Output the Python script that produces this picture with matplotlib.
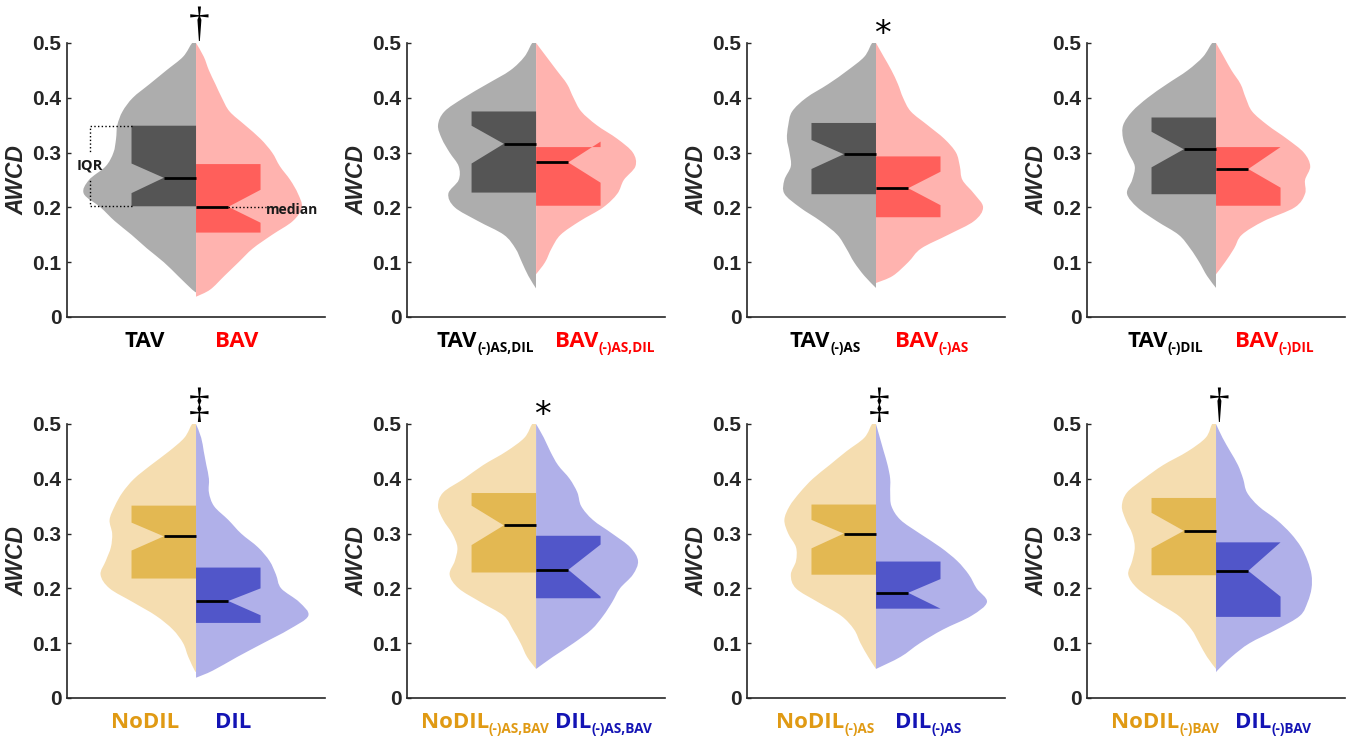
import numpy as np
import matplotlib.pyplot as plt
from matplotlib.path import Path
from matplotlib.patches import PathPatch, Rectangle
from matplotlib.transforms import offset_copy

# AWCD levels at which the violin half-widths were read
levels = [0.5, 0.475, 0.45, 0.425, 0.4, 0.375, 0.35, 0.325, 0.3, 0.275,
          0.25, 0.225, 0.2, 0.175, 0.15, 0.125, 0.1, 0.075, 0.05]

# violin half-widths (one value per level), left half / right half of each panel
tav_all = [0.03, 0.10, 0.23, 0.36, 0.49, 0.57, 0.61, 0.62, 0.64, 0.70, 0.83, 0.87, 0.74, 0.63, 0.50, 0.38, 0.25, 0.14, 0.03]
bav_all = [0.0, 0.06, 0.10, 0.15, 0.20, 0.26, 0.38, 0.50, 0.59, 0.65, 0.73, 0.79, 0.82, 0.75, 0.59, 0.44, 0.33, 0.22, 0.11]
tav_noasdil = [0.03, 0.09, 0.20, 0.38, 0.56, 0.71, 0.76, 0.73, 0.67, 0.60, 0.60, 0.68, 0.63, 0.45, 0.25, 0.16, 0.11, 0.06, 0.0]
bav_noasdil = [0.0, 0.08, 0.16, 0.24, 0.29, 0.35, 0.47, 0.63, 0.75, 0.77, 0.68, 0.63, 0.52, 0.34, 0.19, 0.12, 0.07, 0.0, 0.0]
tav_noas = [0.03, 0.09, 0.22, 0.37, 0.54, 0.65, 0.68, 0.69, 0.67, 0.66, 0.71, 0.71, 0.59, 0.43, 0.30, 0.23, 0.17, 0.09, 0.0]
bav_noas = [0.0, 0.06, 0.12, 0.17, 0.21, 0.27, 0.40, 0.53, 0.62, 0.65, 0.67, 0.76, 0.83, 0.76, 0.56, 0.35, 0.25, 0.13, 0.0]
tav_nodil = [0.03, 0.10, 0.22, 0.38, 0.53, 0.65, 0.72, 0.72, 0.68, 0.63, 0.65, 0.69, 0.61, 0.46, 0.29, 0.20, 0.13, 0.07, 0.0]
bav_nodil = [0.0, 0.06, 0.12, 0.19, 0.23, 0.28, 0.40, 0.55, 0.68, 0.73, 0.69, 0.69, 0.61, 0.37, 0.20, 0.14, 0.07, 0.0, 0.0]
nodil_all = [0.03, 0.09, 0.21, 0.35, 0.48, 0.57, 0.63, 0.67, 0.65, 0.66, 0.70, 0.74, 0.67, 0.49, 0.31, 0.18, 0.10, 0.06, 0.01]
dil_all = [0.0, 0.04, 0.06, 0.08, 0.10, 0.10, 0.14, 0.25, 0.35, 0.48, 0.57, 0.62, 0.66, 0.80, 0.87, 0.72, 0.52, 0.32, 0.13]
nodil_noasbav = [0.03, 0.09, 0.23, 0.41, 0.56, 0.72, 0.76, 0.72, 0.65, 0.61, 0.63, 0.67, 0.60, 0.43, 0.25, 0.18, 0.12, 0.07, 0.0]
dil_noasbav = [0.0, 0.06, 0.11, 0.17, 0.26, 0.32, 0.35, 0.44, 0.59, 0.73, 0.79, 0.75, 0.65, 0.59, 0.52, 0.43, 0.29, 0.13, 0.0]
nodil_noas = [0.03, 0.09, 0.23, 0.36, 0.49, 0.59, 0.67, 0.71, 0.68, 0.62, 0.62, 0.66, 0.62, 0.45, 0.27, 0.17, 0.12, 0.06, 0.0]
dil_noas = [0.0, 0.03, 0.06, 0.09, 0.11, 0.11, 0.12, 0.19, 0.34, 0.50, 0.63, 0.72, 0.78, 0.86, 0.74, 0.52, 0.34, 0.19, 0.0]
nodil_nobav = [0.03, 0.08, 0.22, 0.41, 0.56, 0.69, 0.73, 0.70, 0.65, 0.63, 0.65, 0.68, 0.61, 0.46, 0.29, 0.19, 0.13, 0.07, 0.0]
dil_nobav = [0.0, 0.05, 0.11, 0.17, 0.21, 0.24, 0.33, 0.47, 0.58, 0.66, 0.71, 0.74, 0.74, 0.71, 0.65, 0.47, 0.26, 0.12, 0.01]

# lowest AWCD of each violin half (left, right)
bottoms = [(0.045, 0.037), (0.052, 0.078), (0.053, 0.062), (0.053, 0.078),
           (0.048, 0.037), (0.053, 0.053), (0.053, 0.053), (0.053, 0.045)]

# notched box stats: q1, notch low, median, notch high, q3
box_left = [(0.202, 0.226, 0.254, 0.280, 0.349),
            (0.227, 0.280, 0.316, 0.349, 0.375),
            (0.224, 0.270, 0.297, 0.323, 0.354),
            (0.224, 0.273, 0.306, 0.338, 0.364),
            (0.218, 0.269, 0.295, 0.320, 0.351),
            (0.229, 0.279, 0.315, 0.351, 0.374),
            (0.225, 0.273, 0.300, 0.325, 0.353),
            (0.224, 0.273, 0.305, 0.338, 0.365)]
box_right = [(0.154, 0.172, 0.201, 0.232, 0.279),
             (0.203, 0.245, 0.282, 0.320, 0.310),
             (0.182, 0.204, 0.235, 0.265, 0.293),
             (0.203, 0.236, 0.270, 0.310, 0.310),
             (0.137, 0.151, 0.177, 0.200, 0.238),
             (0.182, 0.185, 0.234, 0.280, 0.296),
             (0.163, 0.163, 0.192, 0.217, 0.249),
             (0.148, 0.185, 0.232, 0.284, 0.284)]

left_names = ['TAV', 'TAV', 'TAV', 'TAV', 'NoDIL', 'NoDIL', 'NoDIL', 'NoDIL']
right_names = ['BAV', 'BAV', 'BAV', 'BAV', 'DIL', 'DIL', 'DIL', 'DIL']
subscripts = ['', '(-)AS,DIL', '(-)AS', '(-)DIL', '', '(-)AS,BAV', '(-)AS', '(-)BAV']
marks = ['\u2020', '', '*', '', '\u2021', '*', '\u2021', '\u2020']

widths = [(tav_all, bav_all), (tav_noasdil, bav_noasdil), (tav_noas, bav_noas),
          (tav_nodil, bav_nodil), (nodil_all, dil_all), (nodil_noasbav, dil_noasbav),
          (nodil_noas, dil_noas), (nodil_nobav, dil_nobav)]

violin_col = {'TAV': '#adadad', 'BAV': '#ffb3af', 'NoDIL': '#f5ddb0', 'DIL': '#b0b0e9'}
box_col = {'TAV': '#555555', 'BAV': '#ff5f5b', 'NoDIL': '#e3b852', 'DIL': '#5156c9'}
text_col = {'TAV': 'black', 'BAV': '#ff0000', 'NoDIL': '#e09a14', 'DIL': '#1414b4'}

fig = plt.figure(figsize=(13.51, 7.42), dpi=100)
renderer = fig.canvas.get_renderer()
lefts = [0.0496, 0.3013, 0.5529, 0.8046]
bots = [0.5728, 0.0593]


def smooth_outline(pts):
    # Catmull-Rom through the read outline points, closed along the centre line
    pts = np.asarray(pts, dtype=float)
    ext = np.vstack([pts[0], pts, pts[-1]])
    verts = [pts[0]]
    codes = [Path.MOVETO]
    for k in range(1, len(ext) - 2):
        p0, p1, p2, p3 = ext[k - 1], ext[k], ext[k + 1], ext[k + 2]
        verts += [p1 + (p2 - p0) / 6, p2 - (p3 - p1) / 6, p2]
        codes += [Path.CURVE4] * 3
    verts.append(pts[0])
    codes.append(Path.CLOSEPOLY)
    return Path(verts, codes)


def half_violin(ax, w, bottom, side, color):
    pts = [] if w[0] == 0 else [(0.0, levels[0])]
    pts += [(side * v, lv) for v, lv in zip(w, levels) if lv > bottom]
    pts.append((0.0, bottom))
    patch = PathPatch(smooth_outline(pts), facecolor=color, lw=0, zorder=1)
    ax.add_patch(patch)
    clip = Rectangle((min(side, 0), 0), 1, 0.5, transform=ax.transData)
    patch.set_clip_path(clip)


def half_box(ax, stats, side, color):
    q1, nlo, med, nhi, q3 = stats
    xs = [0, 0.5, 0.5, 0.25, 0.5, 0.5, 0]
    ys = [q1, q1, nlo, med, nhi, q3, q3]
    ax.fill([side * x for x in xs], ys, color=color, lw=0, zorder=2)
    ax.plot([side * 0.25, 0], [med, med], color='black', lw=2, zorder=3, solid_capstyle='butt')


def group_label(ax, x, name, sub, color, centred):
    tf = ax.get_xaxis_transform()
    kw = dict(fontweight='bold', family='Open Sans', color=color, va='baseline', ha='left')
    t1 = ax.text(x, -0.109, name, transform=tf, fontsize=16, **kw)
    w1 = t1.get_window_extent(renderer).width
    w2 = 0
    if sub:
        t2 = ax.text(x, -0.109, sub, transform=tf, fontsize=9.8, **kw)
        w2 = t2.get_window_extent(renderer).width
    shift = -(w1 + w2) / 2 if centred else 0
    t1.set_transform(offset_copy(tf, fig=fig, x=shift, y=0, units='dots'))
    if sub:
        t2.set_transform(offset_copy(tf, fig=fig, x=shift + w1, y=-5, units='dots'))


for i in range(8):
    ax = fig.add_axes([lefts[i % 4], bots[i // 4], 0.191, 0.3693])
    ln, rn = left_names[i], right_names[i]
    half_violin(ax, widths[i][0], bottoms[i][0], -1, violin_col[ln])
    half_violin(ax, widths[i][1], bottoms[i][1], 1, violin_col[rn])
    half_box(ax, box_left[i], -1, box_col[ln])
    half_box(ax, box_right[i], 1, box_col[rn])

    ax.set_xlim(-1, 1)
    ax.set_ylim(0, 0.5)
    ax.set_xticks([])
    ax.set_yticks([0, 0.1, 0.2, 0.3, 0.4, 0.5])
    ax.set_yticklabels(['0', '0.1', '0.2', '0.3', '0.4', '0.5'],
                       fontsize=15, fontweight='bold', family='Liberation Sans', color='#262626')
    ax.tick_params(axis='y', direction='in', length=3, width=1, pad=4, color='#262626')
    for s in ['top', 'right']:
        ax.spines[s].set_visible(False)
    for s in ['left', 'bottom']:
        ax.spines[s].set_linewidth(1.2)
        ax.spines[s].set_color('#262626')
    ax.text(-0.195, 0.5, 'AWCD', transform=ax.transAxes, rotation=90, ha='center', va='center',
            fontsize=16.5, fontweight='bold', style='italic', family='Liberation Sans', color='#262626')

    group_label(ax, -0.395, ln, subscripts[i], text_col[ln], True)
    group_label(ax, 0.15, rn, subscripts[i], text_col[rn], False)

    tf = ax.get_xaxis_transform()
    if marks[i] == '*':
        ax.text(0.05, 0.995, '*', transform=tf, ha='center', va='baseline', fontsize=24,
                family='DejaVu Sans', color='black')
    elif marks[i]:
        ax.text(0.025, 1.025, marks[i], transform=tf, ha='center', va='baseline', fontsize=30,
                family='Liberation Serif', color='black')

    if i == 0:
        # IQR bracket and median pointer
        q1, nlo, med, nhi, q3 = box_left[0]
        ax.plot([-0.5, -0.82, -0.82], [q3, q3, 0.301], ls=':', color='black', lw=1, zorder=4)
        ax.plot([-0.5, -0.82, -0.82], [q1, q1, 0.252], ls=':', color='black', lw=1, zorder=4)
        ax.text(-0.82, 0.277, 'IQR', ha='center', va='center', fontsize=10.5,
                fontweight='bold', family='Open Sans', color='#1a1a1a')
        m = box_right[0][2]
        ax.plot([0.25, 0.54], [m, m], ls=':', color='black', lw=1, zorder=4)
        ax.text(0.54, m - 0.005, 'median', ha='left', va='center', fontsize=10,
                fontweight='bold', family='Open Sans', color='#1a1a1a')

fig.savefig('out.png', dpi=100)
